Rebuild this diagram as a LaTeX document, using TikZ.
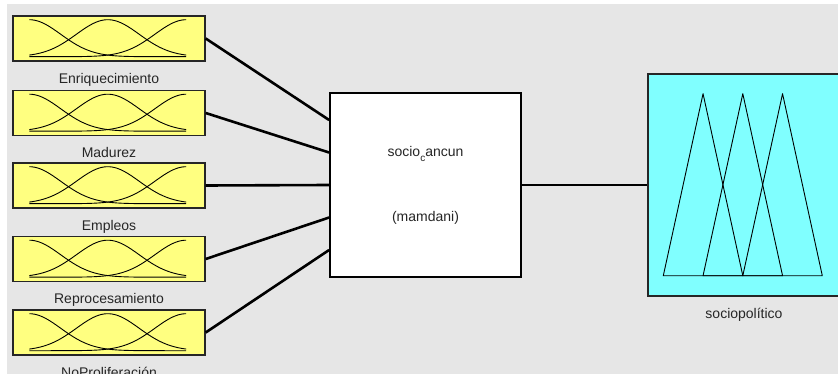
\documentclass[tikz,border=0pt]{standalone}
\usepackage{fontspec}
\setmainfont{Liberation Sans}
\usetikzlibrary{calc}

\definecolor{figgray}{HTML}{E6E6E6}
\definecolor{inyellow}{HTML}{FFFF80}
\definecolor{outcyan}{HTML}{80FFFF}

\begin{document}
\begin{tikzpicture}[x=1pt,y=-1pt,
	inbox/.style={draw=black!85,line width=1.4pt,fill=inyellow,minimum width=192pt,minimum height=45pt,inner sep=0pt},
	rulebox/.style={draw=black,line width=1.8pt,fill=white,minimum width=191pt,minimum height=184pt,inner sep=0pt},
	outbox/.style={draw=black!85,line width=1.4pt,fill=outcyan,minimum width=192pt,minimum height=222pt,inner sep=0pt},
	lbl/.style={font=\fontsize{14}{16}\selectfont,text=black!85,inner sep=0pt,anchor=base},
	mf/.style={line width=0.9pt,line join=round},
	wire/.style={line width=2.6pt}]
	\def\inmf#1#2#3{%
		\node[inbox] (#1) at (109,#2) {};
		\node[lbl] (#1lbl) at ([yshift=-21.5pt]#1.south) {#3};
		\begin{scope}[shift={(#1.south west)}]
			\foreach \c in {0,0.5,1}
				{\draw[mf] plot[domain=0:1,samples=60,smooth] ({17+157*\x},{-5-37*exp(((\x-\c)^2)/(-0.08))});}
		\end{scope}}
	\useasboundingbox (0,0) rectangle (838,374);
	\fill[white] (0,0) rectangle (838,374);
	\fill[figgray] (7,4) rectangle (838,374);
	% inputs
	\inmf{in1}{38.5}{Enriquecimiento}
	\inmf{in2}{113}{Madurez}
	\inmf{in3}{185.5}{Empleos}
	\inmf{in4}{259}{Reprocesamiento}
	\inmf{in5}{332.5}{NoProliferación}
	% rule block
	\node[rulebox] (rule) at (425.5,185) {};
	\node[lbl] (rulename) at ([yshift=28pt]rule.center) {socio\raisebox{-5pt}{\fontsize{10}{10}\selectfont c}ancun};
	\node[lbl] (ruletype) at ([yshift=-37pt]rule.center) {(mamdani)};
	% output
	\node[outbox] (out) at (744,185) {};
	\node[lbl] (outlbl) at ([yshift=-22pt]out.south) {sociopolítico};
	\begin{scope}[shift={(out.south west)}]
		\foreach \p in {0,1,2}
			{\draw[mf] ({16+39.75*\p},-21) -- ({55.75+39.75*\p},-203) -- ({95.5+39.75*\p},-21) -- cycle;}
	\end{scope}
	% wires
	\foreach \i/\s in {1/65,2/32.5,3/0,4/-32.5,5/-65}
		{\draw[wire] (in\i.east) -- ([yshift=\s pt]rule.west);}
	\draw[wire] (rule.east) -- (out.west);
\end{tikzpicture}
\end{document}
